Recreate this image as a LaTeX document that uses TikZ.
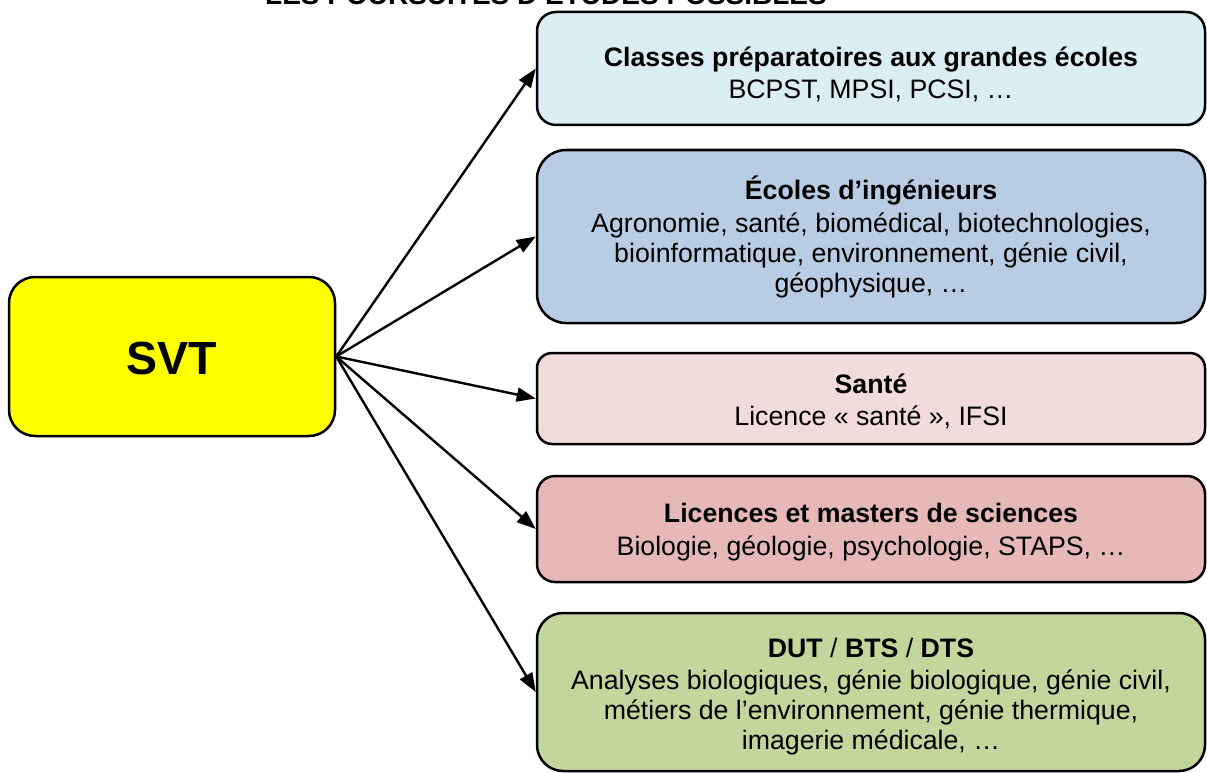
\documentclass[tikz,border=0pt]{standalone}
\usepackage{fontspec}
\setmainfont{Liberation Sans}
\usetikzlibrary{arrows.meta}
\definecolor{cprep}{HTML}{DAEEF3}
\definecolor{cing}{HTML}{B8CCE4}
\definecolor{csante}{HTML}{F2DCDB}
\definecolor{clic}{HTML}{E6B9B8}
\definecolor{cdut}{HTML}{C3D69B}
\definecolor{csvt}{HTML}{FFFF00}
\begin{document}
\begin{tikzpicture}[x=1pt,y=-1pt,
  box/.style={draw=black, line width=2.5pt, minimum width=668pt, inner sep=0pt},
  boxtxt/.style={inner sep=0pt, align=center, font=\fontsize{26.7}{30}\selectfont},
  conn/.style={line width=2.4pt, -{Triangle[length=19pt,width=14pt]}}
]
\useasboundingbox (0,0) rectangle (1207,773);
\node[anchor=base, font=\fontsize{28}{30}\selectfont\bfseries] (title) at (546,5) {LES POURSUITES D’ÉTUDES POSSIBLES};

\node[draw=black, line width=2.5pt, fill=csvt, rounded corners=26pt, minimum width=326pt, minimum height=159pt] (svt) at (172,356.5) {};
\node[font=\fontsize{46.5}{50}\selectfont\bfseries, inner sep=0pt] (svt-t) at ([yshift=-2pt]svt.center) {SVT};

\node[box, fill=cprep, rounded corners=19pt, minimum height=113pt] (prep) at (871,68.5) {};
\node[boxtxt] (prep-t) at ([yshift=-6pt]prep.center)
  {\textbf{Classes préparatoires aux grandes écoles}\\[2.5pt]BCPST, MPSI, PCSI, …};

\node[box, fill=cing, rounded corners=29pt, minimum height=173pt] (ing) at (871,236.5) {};
\node[boxtxt] (ing-t) at ([yshift=-0.5pt]ing.center)
  {\textbf{Écoles d’ingénieurs}\\[2.5pt]Agronomie, santé, biomédical, biotechnologies,\\bioinformatique, environnement, génie civil,\\géophysique, …};

\node[box, fill=csante, rounded corners=15pt, minimum height=91pt] (sante) at (871,398.5) {};
\node[boxtxt] (sante-t) at ([yshift=-3pt]sante.center)
  {\textbf{Santé}\\[2.5pt]Licence « santé », IFSI};

\node[box, fill=clic, rounded corners=18pt, minimum height=106pt] (lic) at (871,529) {};
\node[boxtxt] (lic-t) at ([yshift=-3pt]lic.center)
  {\textbf{Licences et masters de sciences}\\[2.5pt]Biologie, géologie, psychologie, STAPS, …};

\node[box, fill=cdut, rounded corners=26pt, minimum height=158pt] (dut) at (871,692) {};
\node[boxtxt] (dut-t) at ([yshift=-4.5pt]dut.center)
  {\textbf{DUT} / \textbf{BTS} / \textbf{DTS}\\[2.5pt]Analyses biologiques, génie biologique, génie civil,\\métiers de l’environnement, génie thermique,\\imagerie médicale, …};

\foreach \t in {prep,ing,sante,lic,dut}
  \draw[conn] (svt.east) -- (\t.west);
\end{tikzpicture}
\end{document}
